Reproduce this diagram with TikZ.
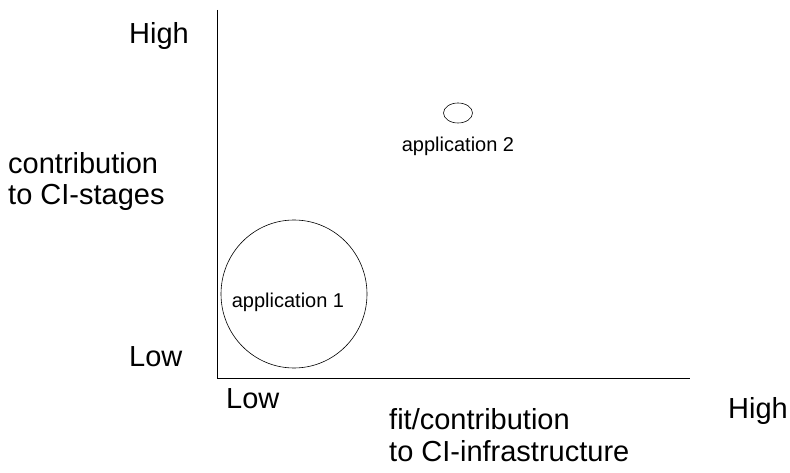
\documentclass[tikz,border=0pt]{standalone}
\usepackage{fontspec}
\setmainfont{Liberation Sans}
\usetikzlibrary{positioning,shapes.geometric}

\begin{document}
\begin{tikzpicture}[x=1pt,y=-1pt,
  axislbl/.style={font=\fontsize{29}{32}\selectfont,inner sep=0pt,align=left},
  applbl/.style={font=\fontsize{20}{24}\selectfont,inner sep=0pt},
  appblob/.style={draw,ellipse,line width=0.6pt,inner sep=0pt}]
\useasboundingbox (0,0) rectangle (790,473);
% axes
\coordinate (orig) at (217,378);
\coordinate (ytop) at (217,10);
\coordinate (xend) at (690,378);
\draw[line width=0.8pt] (ytop) -- (orig) -- (xend);
% axis labels
\node[axislbl,anchor=base west] (yhigh) at (129,44) {High};
\node[axislbl,anchor=base west] (ylow) at (129,366) {Low};
\node[axislbl,anchor=base west] (ytitle) at (8,205) {contribution\\to CI-stages};
\node[axislbl,anchor=base west] (xlow) at (226,408) {Low};
\node[axislbl,anchor=base west] (xhigh) at (728,418) {High};
\node[axislbl,anchor=base west] (xtitle) at (389,461) {fit/contribution\\to CI-infrastructure};
% applications
\node[appblob,minimum width=146pt,minimum height=148pt] (app1) at (294,294) {};
\node[applbl,anchor=base] (app1lbl) at (288,307) {application 1};
\node[appblob,minimum width=29pt,minimum height=20pt] (app2) at (458,113) {};
\node[applbl,below=14pt of app2] (app2lbl) {application 2};
\end{tikzpicture}
\end{document}
